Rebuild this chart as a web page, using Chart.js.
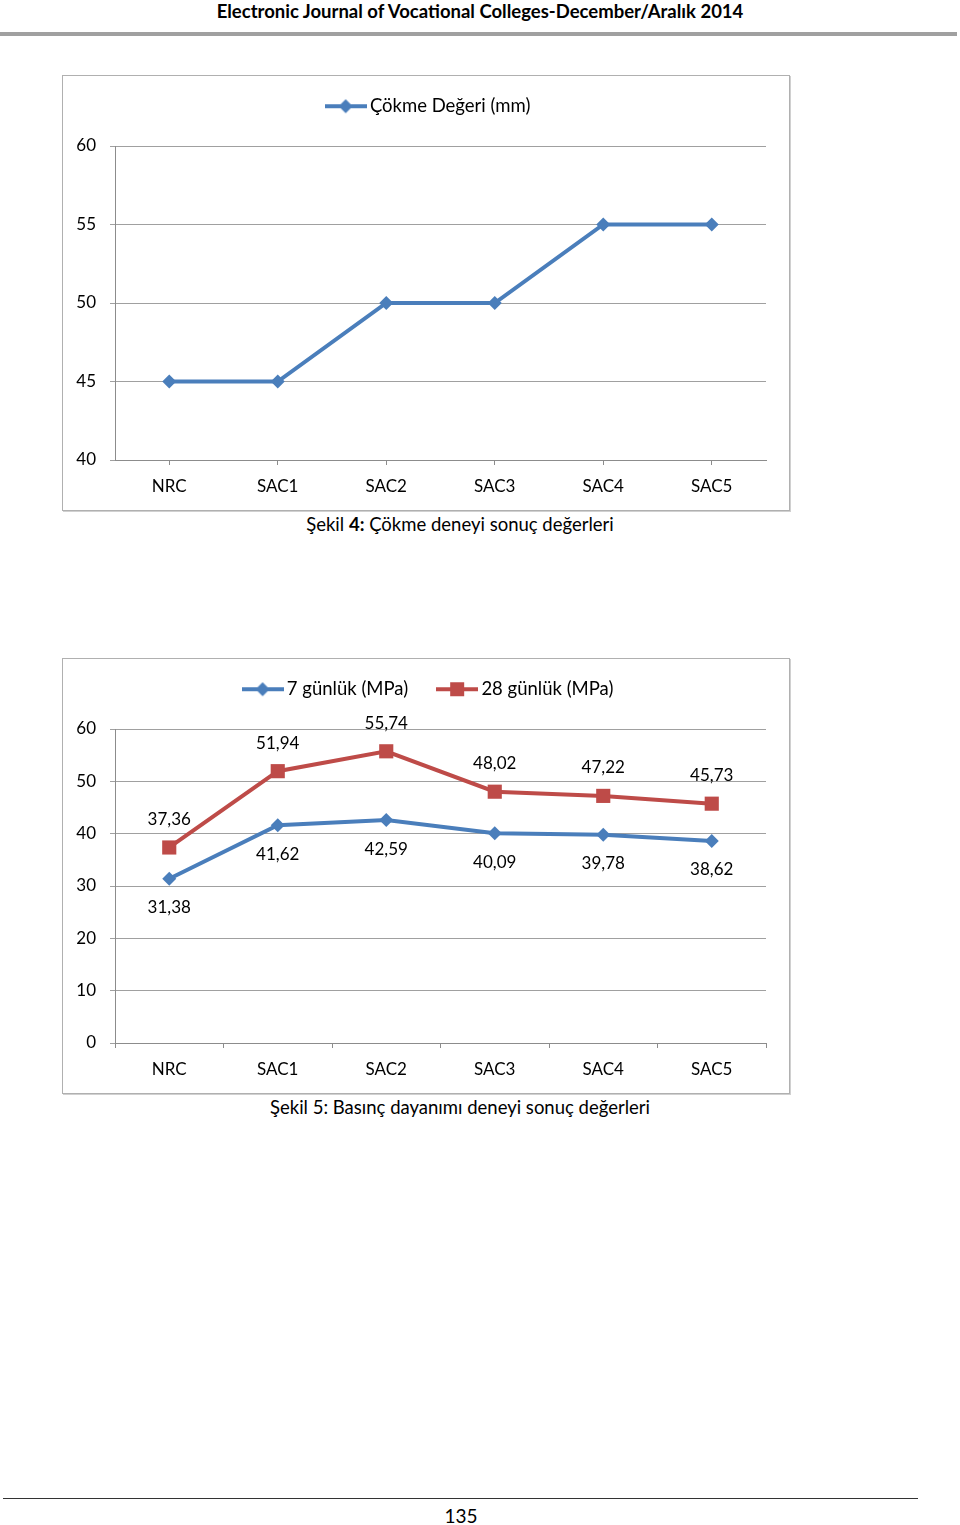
<!DOCTYPE html>
<html>
<head>
<meta charset="utf-8">
<script src="https://cdn.jsdelivr.net/npm/chart.js@4.4.1/dist/chart.umd.min.js"></script>
<style>
  body { margin: 0; background: #fff; font-family: Lato, 'Open Sans', sans-serif; color: #000; }
  .page { position: relative; width: 960px; height: 1525px; }
  .header { position: absolute; top: 0; left: 0; width: 960px; text-align: center; font-weight: bold; font-size: 18.5px; line-height: 22px; }
  .rule { position: absolute; top: 32px; left: 0; width: 957px; height: 4px; background: #a0a0a0; }
  .box { position: absolute; left: 62px; width: 726px; height: 434px; border: 1px solid #b0b0b0; box-shadow: 1px 1px 0 #d0d0d0; }
  .box canvas { position: absolute; left: 0; top: 0; }
  .caption { position: absolute; left: 0; width: 920px; text-align: center; font-size: 18.5px; line-height: 22px; }
  .foot { position: absolute; top: 1498px; left: 3px; width: 915px; height: 1px; background: #333; }
  .pageno { position: absolute; top: 1505px; left: 0; width: 922px; text-align: center; font-size: 19px; line-height: 22px; }
</style>
</head>
<body>
<div class="page">
  <div class="header">Electronic Journal of Vocational Colleges-December/Aralık 2014</div>
  <div class="rule"></div>

  <div class="box" style="top:75px"><canvas id="c1" width="726" height="434"></canvas></div>
  <div class="caption" style="top:513px">Şekil <b>4:</b> Çökme deneyi sonuç değerleri</div>

  <div class="box" style="top:658px"><canvas id="c2" width="726" height="434"></canvas></div>
  <div class="caption" style="top:1096px">Şekil 5: Basınç dayanımı deneyi sonuç değerleri</div>

  <div class="foot"></div>
  <div class="pageno">135</div>
</div>
<script>
// --- data ---
const categories = ['NRC', 'SAC1', 'SAC2', 'SAC3', 'SAC4', 'SAC5'];
const slumpLabel = 'Çökme Değeri (mm)';
const slumpValues = [45, 45, 50, 50, 55, 55];
const slumpTicks = { min: 40, max: 60, step: 5 };

const day7Label = '7 günlük (MPa)';
const day7Values = [31.38, 41.62, 42.59, 40.09, 39.78, 38.62];
const day28Label = '28 günlük (MPa)';
const day28Values = [37.36, 51.94, 55.74, 48.02, 47.22, 45.73];
const strengthTicks = { min: 0, max: 60, step: 10 };

const BLUE = '#4a7ebb';
const RED = '#be4b48';
const GRID = '#a0a0a0';
const AXIS = '#8c8c8c';
const LEGEND_PAD = 34;

Chart.defaults.font.family = "Lato, 'Open Sans', sans-serif";
Chart.defaults.font.size = 17;
Chart.defaults.color = '#000';

// legend icon: line with marker in the middle
function makeIcon(color, shape) {
  const c = document.createElement('canvas');
  c.width = 42; c.height = 18;
  const g = c.getContext('2d');
  g.strokeStyle = color; g.fillStyle = color; g.lineWidth = 4;
  g.beginPath(); g.moveTo(0, 9); g.lineTo(42, 9); g.stroke();
  g.beginPath();
  if (shape === 'diamond') {
    g.moveTo(21, 2); g.lineTo(28, 9); g.lineTo(21, 16); g.lineTo(14, 9);
  } else {
    g.rect(14, 2, 14, 14);
  }
  g.fill();
  return c;
}

// excel puts the legend higher above the plot and centred on the whole box
const legendPlace = {
  id: 'legendPlace',
  afterLayout(chart) {
    const lg = chart.legend;
    const h = lg.height;
    lg.top = 21 - LEGEND_PAD;
    lg.bottom = lg.top + h;
    lg.left += 16;
    lg.right += 16;
  }
};

// draws the value labels above / below each point
const valueLabels = {
  id: 'valueLabels',
  afterDatasetsDraw(chart) {
    const ctx = chart.ctx;
    ctx.save();
    ctx.font = "17px Lato, 'Open Sans', sans-serif";
    ctx.fillStyle = '#000';
    ctx.textAlign = 'center';
    ctx.textBaseline = 'middle';
    chart.data.datasets.forEach((ds, di) => {
      if (!ds.labelPos) return;
      const meta = chart.getDatasetMeta(di);
      meta.data.forEach((pt, i) => {
        const txt = ds.data[i].toFixed(2).replace('.', ',');
        const dy = ds.labelPos === 'above' ? -28 : 29;
        ctx.fillText(txt, pt.x, pt.y + dy);
      });
    });
    ctx.restore();
  }
};

function makeOptions(ticks, gridOffset, icons) {
  return {
    responsive: false,
    animation: false,
    layout: { padding: { top: 0, right: 23, bottom: 0, left: 0 } },
    plugins: {
      legend: {
        position: 'top',
        labels: {
          usePointStyle: true,
          pointStyleWidth: 30,
          padding: LEGEND_PAD,
          color: '#000',
          font: { size: 18.5 },
          generateLabels(chart) {
            return Chart.defaults.plugins.legend.labels.generateLabels(chart)
              .map((item, i) => Object.assign(item, { pointStyle: icons[i] }));
          }
        }
      },
      tooltip: { enabled: false }
    },
    scales: {
      x: {
        offset: true,
        grid: { display: true, drawOnChartArea: false, drawTicks: true, tickLength: 5, color: AXIS, offset: gridOffset },
        border: { display: true, color: AXIS, width: 1 },
        ticks: { padding: 11, color: '#000' },
        afterFit(scale) { scale.height = 50; }
      },
      y: {
        min: ticks.min,
        max: ticks.max,
        ticks: { stepSize: ticks.step, padding: 14, color: '#000' },
        grid: { color: GRID, tickLength: 5, drawTicks: true },
        border: { display: true, color: AXIS, width: 1 },
        afterFit(scale) { scale.width = 52; scale.paddingTop = 70; }
      }
    }
  };
}

new Chart(document.getElementById('c1'), {
  type: 'line',
  data: {
    labels: categories,
    datasets: [{
      label: slumpLabel,
      data: slumpValues,
      borderColor: BLUE,
      backgroundColor: BLUE,
      borderWidth: 4,
      pointStyle: 'rectRot',
      pointRadius: 7,
      pointBorderWidth: 0,
      tension: 0
    }]
  },
  options: makeOptions(slumpTicks, false, [makeIcon(BLUE, 'diamond')]),
  plugins: [legendPlace, valueLabels]
});

new Chart(document.getElementById('c2'), {
  type: 'line',
  data: {
    labels: categories,
    datasets: [{
      label: day7Label,
      data: day7Values,
      borderColor: BLUE,
      backgroundColor: BLUE,
      borderWidth: 4,
      pointStyle: 'rectRot',
      pointRadius: 7,
      pointBorderWidth: 0,
      tension: 0,
      labelPos: 'below'
    }, {
      label: day28Label,
      data: day28Values,
      borderColor: RED,
      backgroundColor: RED,
      borderWidth: 4,
      pointStyle: 'rect',
      pointRadius: 10,
      pointBorderWidth: 0,
      tension: 0,
      labelPos: 'above'
    }]
  },
  options: makeOptions(strengthTicks, true, [makeIcon(BLUE, 'diamond'), makeIcon(RED, 'square')]),
  plugins: [legendPlace, valueLabels]
});
</script>
</body>
</html>
